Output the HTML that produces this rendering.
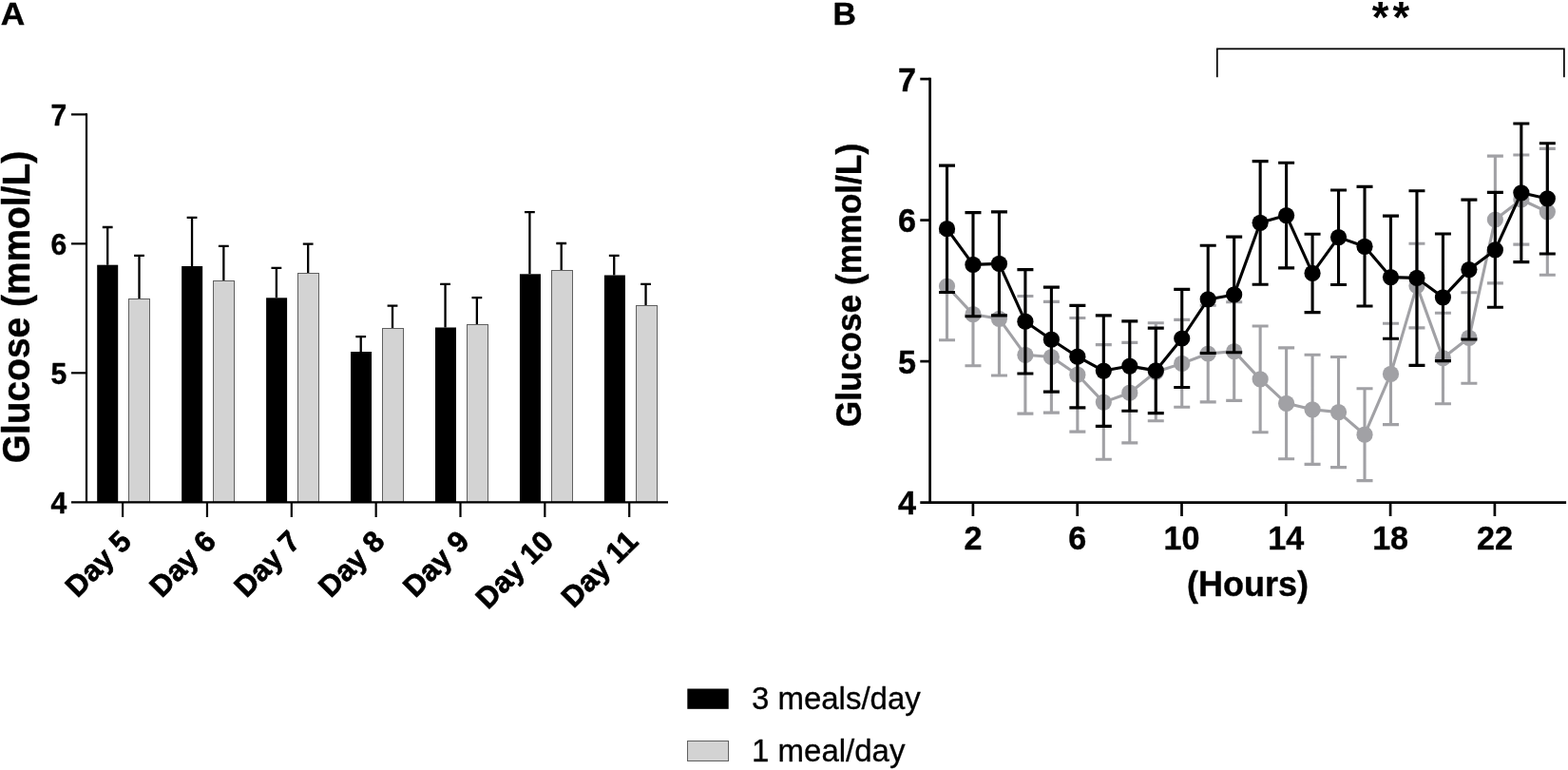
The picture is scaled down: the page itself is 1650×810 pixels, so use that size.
<!DOCTYPE html>
<html lang="en"><head><meta charset="utf-8"><title>Glucose figure</title>
<style>
html,body{margin:0;padding:0;background:#fff;}
body{width:1650px;height:810px;overflow:hidden;}
svg{display:block;}
text{font-family:"Liberation Sans",sans-serif;fill:#000;}
text.b{font-weight:bold;}
text.r{font-weight:normal;}
</style></head>
<body>
<svg width="1650" height="810" viewBox="0 0 1650 810">
<rect width="1650" height="810" fill="#fff"/>
<text transform="translate(0.80 25.60) scale(1 0.95)" text-anchor="start" class="b" font-size="35.3" stroke="#000" stroke-width="0.4" stroke-linejoin="round">A</text>
<text transform="translate(30.60 323.10) rotate(-90) scale(1 1.045)" text-anchor="middle" class="b" font-size="38.9" stroke="#000" stroke-width="0.4" stroke-linejoin="round">Glucose (mmol/L)</text>
<path d="M113.20 278.70V239.00M107.80 239.00H118.60" stroke="#000" stroke-width="2.3" fill="none"/>
<rect x="102.20" y="278.70" width="22.0" height="249.60" fill="#000"/>
<path d="M146.50 314.00V268.90M141.10 268.90H151.90" stroke="#000" stroke-width="2.3" fill="none"/>
<rect x="135.5" y="314.5" width="22" height="213.80" fill="#d3d3d3" stroke="#606060" stroke-width="1"/>
<path d="M202.04 280.00V228.90M196.64 228.90H207.44" stroke="#000" stroke-width="2.3" fill="none"/>
<rect x="191.15" y="280.00" width="22.0" height="248.30" fill="#000"/>
<path d="M235.34 295.20V258.80M229.94 258.80H240.74" stroke="#000" stroke-width="2.3" fill="none"/>
<rect x="224.5" y="295.5" width="22" height="232.80" fill="#d3d3d3" stroke="#606060" stroke-width="1"/>
<path d="M290.88 313.30V281.90M285.48 281.90H296.28" stroke="#000" stroke-width="2.3" fill="none"/>
<rect x="280.10" y="313.30" width="22.0" height="215.00" fill="#000"/>
<path d="M324.18 287.40V256.70M318.78 256.70H329.58" stroke="#000" stroke-width="2.3" fill="none"/>
<rect x="313.5" y="287.5" width="22" height="240.80" fill="#d3d3d3" stroke="#606060" stroke-width="1"/>
<path d="M379.72 370.00V354.20M374.32 354.20H385.12" stroke="#000" stroke-width="2.3" fill="none"/>
<rect x="369.05" y="370.00" width="22.0" height="158.30" fill="#000"/>
<path d="M413.02 345.30V321.60M407.62 321.60H418.42" stroke="#000" stroke-width="2.3" fill="none"/>
<rect x="402.5" y="345.5" width="22" height="182.80" fill="#d3d3d3" stroke="#606060" stroke-width="1"/>
<path d="M468.56 344.50V298.90M463.16 298.90H473.96" stroke="#000" stroke-width="2.3" fill="none"/>
<rect x="458.00" y="344.50" width="22.0" height="183.80" fill="#000"/>
<path d="M501.86 341.20V313.10M496.46 313.10H507.26" stroke="#000" stroke-width="2.3" fill="none"/>
<rect x="491.5" y="341.5" width="22" height="186.80" fill="#d3d3d3" stroke="#606060" stroke-width="1"/>
<path d="M557.40 288.30V223.20M552.00 223.20H562.80" stroke="#000" stroke-width="2.3" fill="none"/>
<rect x="546.95" y="288.30" width="22.0" height="240.00" fill="#000"/>
<path d="M590.70 284.30V256.00M585.30 256.00H596.10" stroke="#000" stroke-width="2.3" fill="none"/>
<rect x="580.5" y="284.5" width="22" height="243.80" fill="#d3d3d3" stroke="#606060" stroke-width="1"/>
<path d="M646.24 289.50V268.80M640.84 268.80H651.64" stroke="#000" stroke-width="2.3" fill="none"/>
<rect x="635.90" y="289.50" width="22.0" height="238.80" fill="#000"/>
<path d="M679.54 321.30V298.80M674.14 298.80H684.94" stroke="#000" stroke-width="2.3" fill="none"/>
<rect x="669.5" y="321.5" width="22" height="206.80" fill="#d3d3d3" stroke="#606060" stroke-width="1"/>
<path d="M91.0 119.30000000000001V529.4M75 528.3H703" stroke="#000" stroke-width="2.2" fill="none"/>
<text transform="translate(70.30 539.50) scale(1 1.03)" text-anchor="end" class="b" font-size="30.1" stroke="#000" stroke-width="0.4" stroke-linejoin="round">4</text>
<path d="M75 392.33H91.0" stroke="#000" stroke-width="2.2"/>
<text transform="translate(70.30 403.53) scale(1 1.03)" text-anchor="end" class="b" font-size="30.1" stroke="#000" stroke-width="0.4" stroke-linejoin="round">5</text>
<path d="M75 256.37H91.0" stroke="#000" stroke-width="2.2"/>
<text transform="translate(70.30 267.57) scale(1 1.03)" text-anchor="end" class="b" font-size="30.1" stroke="#000" stroke-width="0.4" stroke-linejoin="round">6</text>
<path d="M75 120.40H91.0" stroke="#000" stroke-width="2.2"/>
<text transform="translate(70.30 131.60) scale(1 1.03)" text-anchor="end" class="b" font-size="30.1" stroke="#000" stroke-width="0.4" stroke-linejoin="round">7</text>
<path d="M129.10 528.3V544" stroke="#000" stroke-width="2.2"/>
<text transform="translate(140.00 571.20) rotate(-45)" text-anchor="end" class="b" font-size="31.0" stroke="#000" stroke-width="0.7" stroke-linejoin="round">Day 5</text>
<path d="M217.95 528.3V544" stroke="#000" stroke-width="2.2"/>
<text transform="translate(228.85 571.20) rotate(-45)" text-anchor="end" class="b" font-size="31.0" stroke="#000" stroke-width="0.7" stroke-linejoin="round">Day 6</text>
<path d="M306.80 528.3V544" stroke="#000" stroke-width="2.2"/>
<text transform="translate(317.70 571.20) rotate(-45)" text-anchor="end" class="b" font-size="31.0" stroke="#000" stroke-width="0.7" stroke-linejoin="round">Day 7</text>
<path d="M395.65 528.3V544" stroke="#000" stroke-width="2.2"/>
<text transform="translate(406.55 571.20) rotate(-45)" text-anchor="end" class="b" font-size="31.0" stroke="#000" stroke-width="0.7" stroke-linejoin="round">Day 8</text>
<path d="M484.50 528.3V544" stroke="#000" stroke-width="2.2"/>
<text transform="translate(495.40 571.20) rotate(-45)" text-anchor="end" class="b" font-size="31.0" stroke="#000" stroke-width="0.7" stroke-linejoin="round">Day 9</text>
<path d="M573.35 528.3V544" stroke="#000" stroke-width="2.2"/>
<text transform="translate(584.25 571.20) rotate(-45)" text-anchor="end" class="b" font-size="31.0" stroke="#000" stroke-width="0.7" stroke-linejoin="round">Day 10</text>
<path d="M662.20 528.3V544" stroke="#000" stroke-width="2.2"/>
<text transform="translate(673.10 571.20) rotate(-45)" text-anchor="end" class="b" font-size="31.0" stroke="#000" stroke-width="0.7" stroke-linejoin="round">Day 11</text>
<rect x="723.3" y="724.5" width="43.4" height="21.3" fill="#000"/>
<rect x="723.5" y="779.5" width="43" height="21" fill="#d3d3d3" stroke="#606060" stroke-width="1"/>
<text transform="translate(790.90 745.50) scale(1 1.03)" text-anchor="start" class="r" font-size="33" stroke="#000" stroke-width="0.3" stroke-linejoin="round">3 meals/day</text>
<text transform="translate(791.10 800.50) scale(1 1.03)" text-anchor="start" class="r" font-size="33" stroke="#000" stroke-width="0.3" stroke-linejoin="round">1 meal/day</text>
<text transform="translate(876.40 25.50)" text-anchor="start" class="b" font-size="33.8" stroke="#000" stroke-width="0.4" stroke-linejoin="round">B</text>
<text transform="translate(905.90 300.00) rotate(-90) scale(1 1.045)" text-anchor="middle" class="b" font-size="35.35" stroke="#000" stroke-width="0.4" stroke-linejoin="round">Glucose (mmol/L)</text>
<path d="M996.50 244.50V357.70M988.00 244.50H1005.00M988.00 357.70H1005.00M1023.97 276.60V384.80M1015.47 276.60H1032.47M1015.47 384.80H1032.47M1051.44 275.50V395.00M1042.94 275.50H1059.94M1042.94 395.00H1059.94M1078.91 311.50V435.10M1070.41 311.50H1087.41M1070.41 435.10H1087.41M1106.38 317.40V434.10M1097.88 317.40H1114.88M1097.88 434.10H1114.88M1133.85 334.50V454.10M1125.35 334.50H1142.35M1125.35 454.10H1142.35M1161.32 362.60V483.30M1152.82 362.60H1169.82M1152.82 483.30H1169.82M1188.79 360.40V465.90M1180.29 360.40H1197.29M1180.29 465.90H1197.29M1216.26 339.80V442.80M1207.76 339.80H1224.76M1207.76 442.80H1224.76M1243.73 336.40V428.20M1235.23 336.40H1252.23M1235.23 428.20H1252.23M1271.20 321.20V422.90M1262.70 321.20H1279.70M1262.70 422.90H1279.70M1298.67 317.80V421.40M1290.17 317.80H1307.17M1290.17 421.40H1307.17M1326.14 343.00V454.80M1317.64 343.00H1334.64M1317.64 454.80H1334.64M1353.61 365.90V482.70M1345.11 365.90H1362.11M1345.11 482.70H1362.11M1381.08 373.30V488.40M1372.58 373.30H1389.58M1372.58 488.40H1389.58M1408.55 375.50V491.60M1400.05 375.50H1417.05M1400.05 491.60H1417.05M1436.02 408.80V505.60M1427.52 408.80H1444.52M1427.52 505.60H1444.52M1463.49 340.30V446.60M1454.99 340.30H1471.99M1454.99 446.60H1471.99M1490.96 256.20V344.90M1482.46 256.20H1499.46M1482.46 344.90H1499.46M1518.43 329.20V424.80M1509.93 329.20H1526.93M1509.93 424.80H1526.93M1545.90 307.70V403.30M1537.40 307.70H1554.40M1537.40 403.30H1554.40M1573.37 164.10V297.90M1564.87 164.10H1581.87M1564.87 297.90H1581.87M1600.84 163.00V257.10M1592.34 163.00H1609.34M1592.34 257.10H1609.34M1628.31 156.40V289.20M1619.81 156.40H1636.81M1619.81 289.20H1636.81" stroke="#a1a1a5" stroke-width="3.1" fill="none"/>
<polyline points="996.50,301.10 1023.97,330.70 1051.44,335.30 1078.91,373.30 1106.38,375.50 1133.85,394.20 1161.32,423.10 1188.79,413.20 1216.26,391.30 1243.73,382.40 1271.20,372.00 1298.67,369.60 1326.14,398.90 1353.61,424.30 1381.08,430.80 1408.55,433.60 1436.02,457.20 1463.49,393.40 1490.96,300.60 1518.43,376.60 1545.90,355.30 1573.37,231.00 1600.84,210.00 1628.31,222.80" stroke="#a1a1a5" stroke-width="3.1" fill="none" stroke-linejoin="round"/>
<circle cx="996.50" cy="301.10" r="8.6" fill="#a1a1a5"/>
<circle cx="1023.97" cy="330.70" r="8.6" fill="#a1a1a5"/>
<circle cx="1051.44" cy="335.30" r="8.6" fill="#a1a1a5"/>
<circle cx="1078.91" cy="373.30" r="8.6" fill="#a1a1a5"/>
<circle cx="1106.38" cy="375.50" r="8.6" fill="#a1a1a5"/>
<circle cx="1133.85" cy="394.20" r="8.6" fill="#a1a1a5"/>
<circle cx="1161.32" cy="423.10" r="8.6" fill="#a1a1a5"/>
<circle cx="1188.79" cy="413.20" r="8.6" fill="#a1a1a5"/>
<circle cx="1216.26" cy="391.30" r="8.6" fill="#a1a1a5"/>
<circle cx="1243.73" cy="382.40" r="8.6" fill="#a1a1a5"/>
<circle cx="1271.20" cy="372.00" r="8.6" fill="#a1a1a5"/>
<circle cx="1298.67" cy="369.60" r="8.6" fill="#a1a1a5"/>
<circle cx="1326.14" cy="398.90" r="8.6" fill="#a1a1a5"/>
<circle cx="1353.61" cy="424.30" r="8.6" fill="#a1a1a5"/>
<circle cx="1381.08" cy="430.80" r="8.6" fill="#a1a1a5"/>
<circle cx="1408.55" cy="433.60" r="8.6" fill="#a1a1a5"/>
<circle cx="1436.02" cy="457.20" r="8.6" fill="#a1a1a5"/>
<circle cx="1463.49" cy="393.40" r="8.6" fill="#a1a1a5"/>
<circle cx="1490.96" cy="300.60" r="8.6" fill="#a1a1a5"/>
<circle cx="1518.43" cy="376.60" r="8.6" fill="#a1a1a5"/>
<circle cx="1545.90" cy="355.30" r="8.6" fill="#a1a1a5"/>
<circle cx="1573.37" cy="231.00" r="8.6" fill="#a1a1a5"/>
<circle cx="1600.84" cy="210.00" r="8.6" fill="#a1a1a5"/>
<circle cx="1628.31" cy="222.80" r="8.6" fill="#a1a1a5"/>
<path d="M996.50 174.10V307.50M988.00 174.10H1005.00M988.00 307.50H1005.00M1023.97 223.60V332.70M1015.47 223.60H1032.47M1015.47 332.70H1032.47M1051.44 222.90V331.90M1042.94 222.90H1059.94M1042.94 331.90H1059.94M1078.91 283.60V393.00M1070.41 283.60H1087.41M1070.41 393.00H1087.41M1106.38 302.10V412.10M1097.88 302.10H1114.88M1097.88 412.10H1114.88M1133.85 321.40V428.90M1125.35 321.40H1142.35M1125.35 428.90H1142.35M1161.32 331.90V448.40M1152.82 331.90H1169.82M1152.82 448.40H1169.82M1188.79 337.90V432.30M1180.29 337.90H1197.29M1180.29 432.30H1197.29M1216.26 345.10V434.60M1207.76 345.10H1224.76M1207.76 434.60H1224.76M1243.73 304.40V407.50M1235.23 304.40H1252.23M1235.23 407.50H1252.23M1271.20 258.30V371.50M1262.70 258.30H1279.70M1262.70 371.50H1279.70M1298.67 249.10V370.70M1290.17 249.10H1307.17M1290.17 370.70H1307.17M1326.14 169.60V299.30M1317.64 169.60H1334.64M1317.64 299.30H1334.64M1353.61 171.20V281.90M1345.11 171.20H1362.11M1345.11 281.90H1362.11M1381.08 246.20V328.60M1372.58 246.20H1389.58M1372.58 328.60H1389.58M1408.55 200.00V299.50M1400.05 200.00H1417.05M1400.05 299.50H1417.05M1436.02 196.40V322.00M1427.52 196.40H1444.52M1427.52 322.00H1444.52M1463.49 227.10V356.30M1454.99 227.10H1471.99M1454.99 356.30H1471.99M1490.96 200.70V384.40M1482.46 200.70H1499.46M1482.46 384.40H1499.46M1518.43 246.00V379.60M1509.93 246.00H1526.93M1509.93 379.60H1526.93M1545.90 210.10V357.00M1537.40 210.10H1554.40M1537.40 357.00H1554.40M1573.37 202.40V323.30M1564.87 202.40H1581.87M1564.87 323.30H1581.87M1600.84 130.00V275.60M1592.34 130.00H1609.34M1592.34 275.60H1609.34M1628.31 150.70V267.00M1619.81 150.70H1636.81M1619.81 267.00H1636.81" stroke="#000" stroke-width="3.1" fill="none"/>
<polyline points="996.50,240.70 1023.97,278.40 1051.44,277.40 1078.91,338.20 1106.38,357.20 1133.85,375.20 1161.32,390.10 1188.79,385.10 1216.26,389.90 1243.73,356.00 1271.20,314.90 1298.67,309.90 1326.14,234.30 1353.61,226.60 1381.08,287.40 1408.55,249.60 1436.02,259.30 1463.49,291.60 1490.96,292.40 1518.43,312.80 1545.90,283.60 1573.37,262.90 1600.84,202.80 1628.31,208.90" stroke="#000" stroke-width="3.1" fill="none" stroke-linejoin="round"/>
<circle cx="996.50" cy="240.70" r="8.6" fill="#000"/>
<circle cx="1023.97" cy="278.40" r="8.6" fill="#000"/>
<circle cx="1051.44" cy="277.40" r="8.6" fill="#000"/>
<circle cx="1078.91" cy="338.20" r="8.6" fill="#000"/>
<circle cx="1106.38" cy="357.20" r="8.6" fill="#000"/>
<circle cx="1133.85" cy="375.20" r="8.6" fill="#000"/>
<circle cx="1161.32" cy="390.10" r="8.6" fill="#000"/>
<circle cx="1188.79" cy="385.10" r="8.6" fill="#000"/>
<circle cx="1216.26" cy="389.90" r="8.6" fill="#000"/>
<circle cx="1243.73" cy="356.00" r="8.6" fill="#000"/>
<circle cx="1271.20" cy="314.90" r="8.6" fill="#000"/>
<circle cx="1298.67" cy="309.90" r="8.6" fill="#000"/>
<circle cx="1326.14" cy="234.30" r="8.6" fill="#000"/>
<circle cx="1353.61" cy="226.60" r="8.6" fill="#000"/>
<circle cx="1381.08" cy="287.40" r="8.6" fill="#000"/>
<circle cx="1408.55" cy="249.60" r="8.6" fill="#000"/>
<circle cx="1436.02" cy="259.30" r="8.6" fill="#000"/>
<circle cx="1463.49" cy="291.60" r="8.6" fill="#000"/>
<circle cx="1490.96" cy="292.40" r="8.6" fill="#000"/>
<circle cx="1518.43" cy="312.80" r="8.6" fill="#000"/>
<circle cx="1545.90" cy="283.60" r="8.6" fill="#000"/>
<circle cx="1573.37" cy="262.90" r="8.6" fill="#000"/>
<circle cx="1600.84" cy="202.80" r="8.6" fill="#000"/>
<circle cx="1628.31" cy="208.90" r="8.6" fill="#000"/>
<path d="M978.6 81.75V529.95M968.3 528.6H1648.1" stroke="#000" stroke-width="2.7" fill="none"/>
<text transform="translate(964.00 541.00) scale(1 1.05)" text-anchor="end" class="b" font-size="34.2" stroke="#000" stroke-width="0.4" stroke-linejoin="round">4</text>
<path d="M968.3 380.10H978.6" stroke="#000" stroke-width="2.7"/>
<text transform="translate(964.00 392.50) scale(1 1.05)" text-anchor="end" class="b" font-size="34.2" stroke="#000" stroke-width="0.4" stroke-linejoin="round">5</text>
<path d="M968.3 231.60H978.6" stroke="#000" stroke-width="2.7"/>
<text transform="translate(964.00 244.00) scale(1 1.05)" text-anchor="end" class="b" font-size="34.2" stroke="#000" stroke-width="0.4" stroke-linejoin="round">6</text>
<path d="M968.3 83.10H978.6" stroke="#000" stroke-width="2.7"/>
<text transform="translate(964.00 95.50) scale(1 1.05)" text-anchor="end" class="b" font-size="34.2" stroke="#000" stroke-width="0.4" stroke-linejoin="round">7</text>
<path d="M1023.90 528.6V543" stroke="#000" stroke-width="2.7"/>
<text transform="translate(1023.90 578.40) scale(1 1.05)" text-anchor="middle" class="b" font-size="34.1" stroke="#000" stroke-width="0.4" stroke-linejoin="round">2</text>
<path d="M1133.70 528.6V543" stroke="#000" stroke-width="2.7"/>
<text transform="translate(1133.70 578.40) scale(1 1.05)" text-anchor="middle" class="b" font-size="34.1" stroke="#000" stroke-width="0.4" stroke-linejoin="round">6</text>
<path d="M1243.50 528.6V543" stroke="#000" stroke-width="2.7"/>
<text transform="translate(1243.50 578.40) scale(1 1.05)" text-anchor="middle" class="b" font-size="34.1" stroke="#000" stroke-width="0.4" stroke-linejoin="round">10</text>
<path d="M1353.30 528.6V543" stroke="#000" stroke-width="2.7"/>
<text transform="translate(1353.30 578.40) scale(1 1.05)" text-anchor="middle" class="b" font-size="34.1" stroke="#000" stroke-width="0.4" stroke-linejoin="round">14</text>
<path d="M1463.10 528.6V543" stroke="#000" stroke-width="2.7"/>
<text transform="translate(1463.10 578.40) scale(1 1.05)" text-anchor="middle" class="b" font-size="34.1" stroke="#000" stroke-width="0.4" stroke-linejoin="round">18</text>
<path d="M1572.90 528.6V543" stroke="#000" stroke-width="2.7"/>
<text transform="translate(1572.90 578.40) scale(1 1.05)" text-anchor="middle" class="b" font-size="34.1" stroke="#000" stroke-width="0.4" stroke-linejoin="round">22</text>
<text transform="translate(1313.00 626.90) scale(1 1.035)" text-anchor="middle" class="b" font-size="36.0" stroke="#000" stroke-width="0.4" stroke-linejoin="round">(Hours)</text>
<path d="M1280.8 81.2V51.3H1645.9V81.2" stroke="#000" stroke-width="1.7" fill="none"/>
<text transform="translate(1465.40 33.50)" text-anchor="middle" class="b" font-size="45.5" letter-spacing="3.9">**</text>
</svg>
</body></html>
